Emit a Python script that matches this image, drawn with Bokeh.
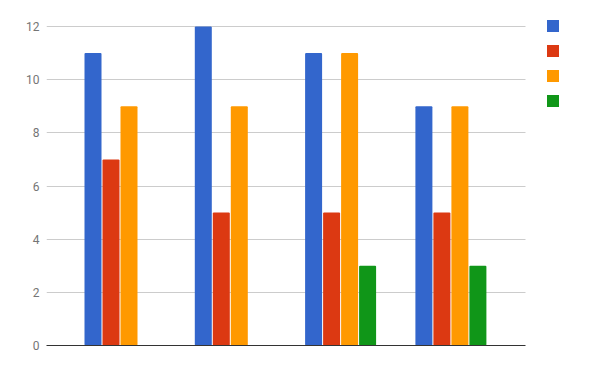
import numpy as np
from bokeh.plotting import figure
from bokeh.models import ColumnDataSource, Range1d, Legend, LegendItem, FixedTicker
from bokeh.transform import dodge
from bokeh.embed import file_html
from bokeh.resources import INLINE

groups = ["G1", "G2", "G3", "G4"]
series1 = [11, 12, 11, 9]
series2 = [7, 5, 5, 5]
series3 = [9, 9, 11, 9]
series4 = [np.nan, np.nan, 3, 3]
colors = ["#3366cc", "#dc3912", "#ff9900", "#109618"]
y_ticks = [0, 2, 4, 6, 8, 10, 12]

source = ColumnDataSource(data=dict(
    group=groups,
    idx=np.arange(len(groups), dtype=float),
    s1=np.array(series1, dtype=float),
    s2=np.array(series2, dtype=float),
    s3=np.array(series3, dtype=float),
    s4=np.array(series4, dtype=float),
))

# layout geometry (pixels)
frame_w, frame_h = 554, 327
px_per_group = 110.3
px_per_unit = 319 / 12
x_start = -(119.5 - 46) / px_per_group
x_end = x_start + frame_w / px_per_group
x_plot_end = x_start + (525 - 46) / px_per_group
y_end = 12 + 8 / px_per_unit

p = figure(
    x_range=Range1d(x_start, x_end),
    y_range=Range1d(0, y_end),
    frame_width=frame_w, frame_height=frame_h,
    output_backend="svg", toolbar_location=None,
    min_border_left=46, min_border_right=0, min_border_top=18, min_border_bottom=26,
)
p.outline_line_color = None
p.background_fill_color = "white"
p.border_fill_color = "white"

p.xaxis.ticker = FixedTicker(ticks=[])
p.xaxis.bounds = (x_start, x_plot_end)
p.xaxis.axis_line_color = "#333333"
p.xaxis.axis_line_width = 1
p.xaxis.major_tick_line_color = None
p.xaxis.minor_tick_line_color = None
p.xaxis.major_tick_in = 0
p.xaxis.major_tick_out = 0
p.xgrid.grid_line_color = None
p.ygrid.grid_line_color = "#cccccc"
p.ygrid.grid_line_width = 1
p.ygrid.cross_bounds = (x_start, x_plot_end)
p.yaxis.ticker = FixedTicker(ticks=y_ticks)
p.yaxis.axis_line_color = None
p.yaxis.major_tick_line_color = None
p.yaxis.minor_tick_line_color = None
p.yaxis.major_tick_in = 0
p.yaxis.major_tick_out = 0
p.yaxis.major_label_standoff = 7
p.yaxis.major_label_text_font = "Roboto"
p.yaxis.major_label_text_font_size = "12px"
p.yaxis.major_label_text_color = "#757575"

pitch = 18 / px_per_group
bw = 17 / px_per_group
offsets = [-1.5 * pitch, -0.5 * pitch, 0.5 * pitch, 1.5 * pitch]
renderers = []
for i, col in enumerate(["s1", "s2", "s3", "s4"]):
    r = p.vbar(x=dodge("idx", offsets[i]), top=col, bottom=0,
               width=bw, source=source, fill_color=colors[i], line_color=None,
               border_radius=1)
    renderers.append(r)

legend = Legend(
    items=[LegendItem(label="\u00a0", renderers=[r]) for r in renderers],
    location="top_right",
    glyph_width=15, glyph_height=15,
    label_height=15, label_width=40,
    label_text_font_size="8px",
    spacing=10, padding=0, margin=0,
    border_line_color=None, background_fill_alpha=0,
    label_standoff=0,
)
p.add_layout(legend, "center")

open("out.html", "w").write(file_html(p, INLINE))
